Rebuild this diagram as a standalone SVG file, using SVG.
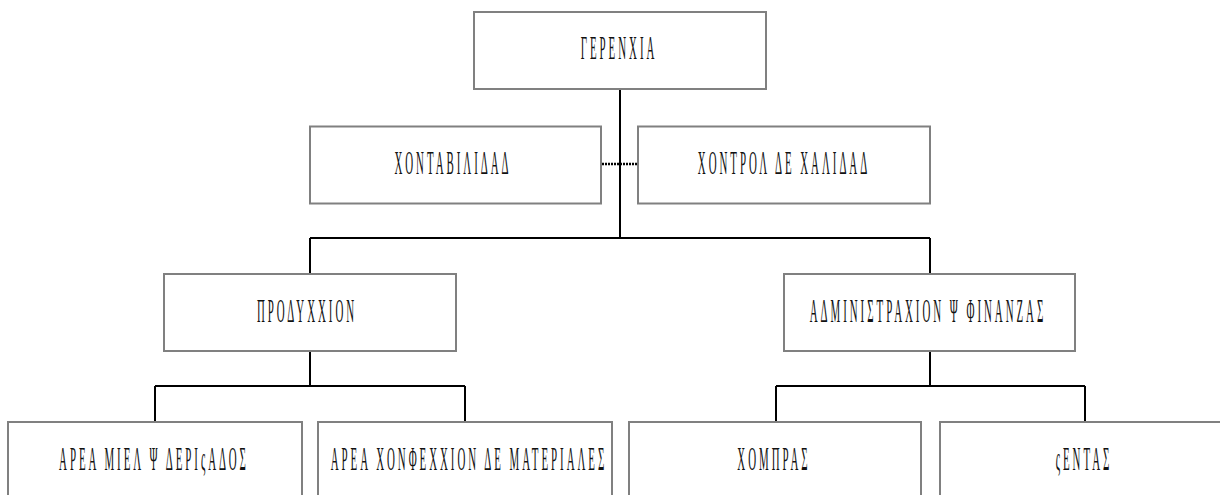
<svg xmlns="http://www.w3.org/2000/svg" width="1220" height="495" viewBox="0 0 1220 495">
<style>
.box{fill:#fff;stroke:#808080;stroke-width:2}
.lbl{font-family:"Liberation Serif","Times New Roman",serif;font-size:33px;letter-spacing:9px;fill:#111;text-anchor:middle}
.ln{stroke:#000;stroke-width:2;fill:none}
.dot{stroke:#000;stroke-width:2.5;stroke-dasharray:2 1;fill:none}
</style>
<rect width="1220" height="495" fill="#fff"/>
<g id="connectors">
<path class="ln" d="M620 89V238M310 238H930M310 238V274M930 238V274"/>
<path class="dot" d="M602 164H638"/>
<path class="ln" d="M310 351V386M155 386H465M155 386V422M465 386V422"/>
<path class="ln" d="M930 351V386M776 386H1085M776 386V422M1085 386V422"/>
</g>
<g id="gerencia"><rect class="box" x="474" y="12" width="292" height="77"/>
<text class="lbl" transform="translate(619,59) scale(0.33,1)">ΓΕΡΕΝΧΙΑ</text></g>
<g id="contabilidad"><rect class="box" x="310" y="126.5" width="291" height="77"/>
<text class="lbl" transform="translate(453,174) scale(0.33,1)">ΧΟΝΤΑΒΙΛΙΔΑΔ</text></g>
<g id="control"><rect class="box" x="638" y="126.5" width="292" height="77"/>
<text class="lbl" transform="translate(784,174) scale(0.33,1)">ΧΟΝΤΡΟΛ ΔΕ ΧΑΛΙΔΑΔ</text></g>
<g id="produccion"><rect class="box" x="164" y="274" width="292" height="77"/>
<text class="lbl" transform="translate(307,322) scale(0.33,1)">ΠΡΟΔΥΧΧΙΟΝ</text></g>
<g id="administracion"><rect class="box" x="784" y="274" width="291" height="77"/>
<text class="lbl" transform="translate(928,322) scale(0.33,1)">ΑΔΜΙΝΙΣΤΡΑΧΙΟΝ Ψ ΦΙΝΑΝΖΑΣ</text></g>
<g id="miel"><rect class="box" x="8" y="422" width="294" height="100"/>
<text class="lbl" transform="translate(154,469.5) scale(0.33,1)">ΑΡΕΑ ΜΙΕΛ Ψ ΔΕΡΙςΑΔΟΣ</text></g>
<g id="confeccion"><rect class="box" x="318" y="422" width="294" height="100"/>
<text class="lbl" transform="translate(469,469.5) scale(0.33,1)">ΑΡΕΑ ΧΟΝΦΕΧΧΙΟΝ ΔΕ ΜΑΤΕΡΙΑΛΕΣ</text></g>
<g id="compras"><rect class="box" x="629" y="422" width="292" height="100"/>
<text class="lbl" transform="translate(774,469.5) scale(0.33,1)">ΧΟΜΠΡΑΣ</text></g>
<g id="ventas"><rect class="box" x="940" y="422" width="300" height="100"/>
<text class="lbl" transform="translate(1084,469.5) scale(0.33,1)">ςΕΝΤΑΣ</text></g>
</svg>
